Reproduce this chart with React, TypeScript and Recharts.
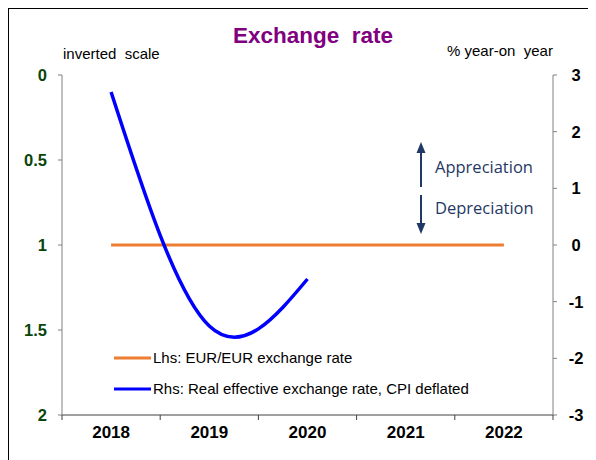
import { LineChart, Line, XAxis, YAxis, Legend } from "recharts";

const years = [2018, 2019, 2020, 2021, 2022];
const eurEur = [1, 1, 1, 1, 1];
const reerCpi = [2.7, -1.43, -0.6, null, null];
const leftTicks = [0, 0.5, 1, 1.5, 2];
const rightTicks = [-3, -2, -1, 0, 1, 2, 3];
const xTicks = [2017.5, 2018, 2018.5, 2019, 2019.5, 2020, 2020.5, 2021, 2021.5, 2022, 2022.5];

const data = years.map((year, i) => ({ year, eur: eurEur[i], reer: reerCpi[i] }));

const FONT = "'Liberation Sans', Arial, sans-serif";

// integer years get a label, half years get the tick mark between categories
const XTick = (props: any) => {
  const { x, y, payload } = props;
  if (payload.value % 1 !== 0) {
    return <line x1={x} x2={x} y1={y - 5} y2={y} stroke="#404040" strokeWidth={1} />;
  }
  return (
    <text x={x} y={y} dy={18} textAnchor="middle" fontFamily={FONT} fontSize={17} fontWeight="bold" fill="#000">
      {payload.value}
    </text>
  );
};

const RightTick = (props: any) => {
  const { x, y, payload } = props;
  return (
    <text x={x + 9} y={y} dy={6} textAnchor="middle" fontFamily={FONT} fontSize={16.5} fontWeight="bold" fill="#000">
      {payload.value}
    </text>
  );
};

const LegendBox = (props: any) => {
  const { payload } = props;
  return (
    <div style={{ fontFamily: FONT, fontSize: 15, color: "#000" }}>
      {payload.map((p: any) => (
        <div key={p.value} style={{ display: "flex", alignItems: "center", height: 31 }}>
          <svg width={38} height={6}>
            <line x1={0} x2={37} y1={3} y2={3} stroke={p.color} strokeWidth={3} />
          </svg>
          <span style={{ marginLeft: 1 }}>{p.value}</span>
        </div>
      ))}
    </div>
  );
};

export default function App() {
  return (
    <div style={{ position: "relative", width: 588, height: 452 }}>
      <div
        style={{
          position: "absolute",
          left: 0,
          top: 0,
          width: 588,
          height: 452,
          borderTop: "1px solid #000",
          borderLeft: "1px solid #000",
          boxSizing: "border-box",
        }}
      />
      <LineChart width={588} height={452} data={data} margin={{ top: 67, right: 3, bottom: 15, left: 14 }}>
        <XAxis
          dataKey="year"
          type="number"
          domain={[2017.5, 2022.5]}
          ticks={xTicks}
          interval={0}
          tickSize={5}
          tickMargin={0}
          tickLine={false}
          tick={<XTick />}
          height={30}
          axisLine={{ stroke: "#404040" }}
        />
        <YAxis
          yAxisId="left"
          domain={[0, 2]}
          reversed
          ticks={leftTicks}
          interval={0}
          width={40}
          tickSize={4}
          tickMargin={11}
          axisLine={{ stroke: "#808080" }}
          tickLine={{ stroke: "#808080" }}
          tick={{ fill: "#0a450a", fontSize: 16.5, fontWeight: "bold", fontFamily: FONT }}
        />
        <YAxis
          yAxisId="right"
          orientation="right"
          domain={[-3, 3]}
          ticks={rightTicks}
          interval={0}
          width={40}
          tickSize={4}
          tickMargin={10}
          axisLine={{ stroke: "#808080" }}
          tickLine={{ stroke: "#808080" }}
          tick={<RightTick />}
        />
        <Legend
          layout="vertical"
          verticalAlign="middle"
          align="center"
          content={<LegendBox />}
          wrapperStyle={{ left: 106, top: 334, width: 420 }}
        />
        <Line
          yAxisId="left"
          type="linear"
          dataKey="eur"
          name="Lhs: EUR/EUR exchange rate"
          stroke="#ED7D31"
          strokeWidth={3}
          dot={false}
          isAnimationActive={false}
        />
        <Line
          yAxisId="right"
          type="natural"
          dataKey="reer"
          name="Rhs: Real effective exchange rate, CPI deflated"
          stroke="#0000FF"
          strokeWidth={3.5}
          dot={false}
          isAnimationActive={false}
        />
      </LineChart>
      <svg
        width={588}
        height={452}
        style={{ position: "absolute", left: 0, top: 0, pointerEvents: "none" }}
      >
        <text x={305} y={35} textAnchor="middle" fontFamily={FONT} fontSize={22.5} fontWeight="bold" fill="#800080">
          {"Exchange \u00A0rate"}
        </text>
        <text x={55} y={51} fontFamily={FONT} fontSize={15} fill="#000">
          {"inverted \u00A0scale"}
        </text>
        <text x={439} y={48} fontFamily={FONT} fontSize={15} fill="#000">
          {"% year-on \u00A0year"}
        </text>
        <line x1={413} x2={413} y1={144} y2={179} stroke="#1F3864" strokeWidth={2} />
        <polygon points="413,134 408.5,145 417.5,145" fill="#1F3864" />
        <line x1={413} x2={413} y1={187} y2={216} stroke="#1F3864" strokeWidth={2} />
        <polygon points="413,226 408.5,215 417.5,215" fill="#1F3864" />
        <text x={427} y={165} fontFamily="'Open Sans', sans-serif" fontSize={16.5} fill="#1F3864">
          Appreciation
        </text>
        <text x={427} y={206} fontFamily="'Open Sans', sans-serif" fontSize={16.5} fill="#1F3864">
          Depreciation
        </text>
      </svg>
    </div>
  );
}
